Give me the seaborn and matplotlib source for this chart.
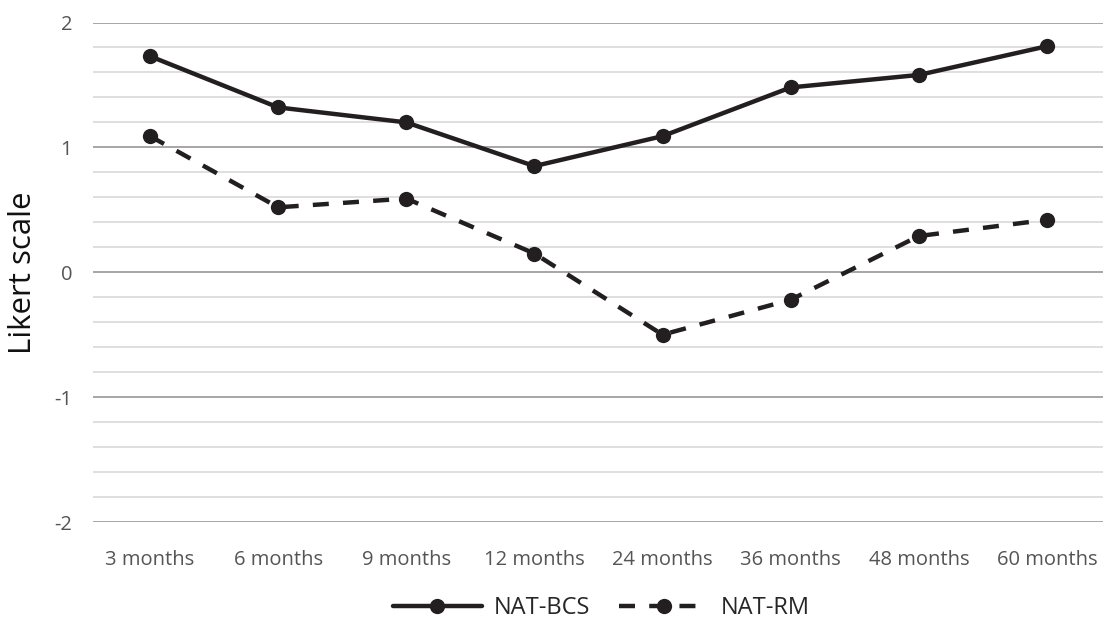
import matplotlib
matplotlib.use("Agg")
import matplotlib.pyplot as plt
import seaborn as sns
import pandas as pd
import numpy as np
from matplotlib.ticker import MultipleLocator

categories = ["3 months", "6 months", "9 months", "12 months", "24 months",
              "36 months", "48 months", "60 months"]
nat_bcs = [1.73, 1.32, 1.20, 0.85, 1.09, 1.48, 1.58, 1.81]
nat_rm = [1.09, 0.52, 0.59, 0.15, -0.50, -0.22, 0.29, 0.42]
series_names = ["NAT-BCS", "NAT-RM"]

df = pd.DataFrame({
    "time": categories * 2,
    "value": nat_bcs + nat_rm,
    "series": [series_names[0]] * len(categories) + [series_names[1]] * len(categories),
})
df["x"] = df["time"].map({c: i for i, c in enumerate(categories)})

sns.set_style("white")
plt.rcParams["font.family"] = ["Open Sans", "DejaVu Sans"]

fig = plt.figure(figsize=(11.03, 6.19), dpi=100)
ax = fig.add_axes([93 / 1103, 1 - 522 / 619, (1104 - 93) / 1103, (522 - 22.5) / 619])

line_color = "#231f20"
sns.lineplot(data=df, x="x", y="value", hue="series", style="series",
             palette={n: line_color for n in series_names},
             dashes={"NAT-BCS": "", "NAT-RM": (3.6, 3.2)},
             markers={"NAT-BCS": "o", "NAT-RM": "o"},
             markersize=11, markeredgewidth=0, linewidth=3.2,
             ax=ax, legend=True, zorder=3)

ax.set_ylim(-2, 2)
ax.set_xlim(-0.445, 7.445)
ax.yaxis.set_major_locator(MultipleLocator(1))
ax.yaxis.set_minor_locator(MultipleLocator(0.2))
ax.grid(which="major", axis="y", color="#a6a6a6", linewidth=1.4, zorder=0)
ax.grid(which="minor", axis="y", color="#d9d9d9", linewidth=1.2, zorder=0)
ax.grid(which="major", axis="x", visible=False)
for s in ax.spines.values():
    s.set_visible(False)

ax.set_xticks(range(len(categories)))
ax.set_xticklabels(categories)
ax.set_yticks([-2, -1, 0, 1, 2])
ax.set_yticklabels(["-2", "-1", "0", "1", "2"])
ax.tick_params(axis="both", which="both", length=0, colors="#555555", labelsize=14.5)
ax.tick_params(axis="x", pad=20)
ax.tick_params(axis="y", pad=15)
ax.set_xlabel("")
ax.set_ylabel("Likert scale", fontsize=22.5, color="#111111")
ax.yaxis.set_label_coords(-0.054, 0.5)

handles, labels = ax.get_legend_handles_labels()
ax.legend(handles=handles, labels=labels, loc="center",
          bbox_to_anchor=(601 / 1103, 1 - 608 / 619), bbox_transform=fig.transFigure,
          ncol=2, frameon=False, borderpad=0,
          fontsize=17, handlelength=3.8, columnspacing=1.2, handletextpad=0.5)

fig.savefig("out.png", dpi=100)
